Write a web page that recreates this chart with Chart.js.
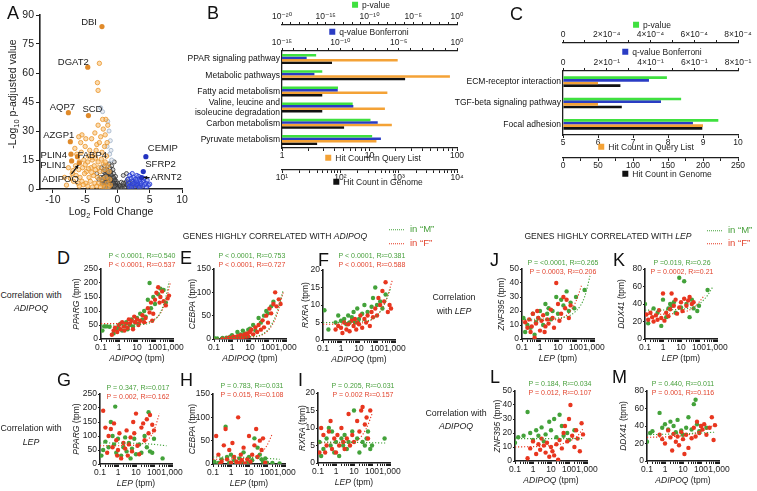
<!DOCTYPE html>
<html>
<head>
<meta charset="utf-8">
<script src="https://cdn.jsdelivr.net/npm/chart.js@4.4.0/dist/chart.umd.min.js"></script>
<style>
html, body { margin: 0; padding: 0; background: #fff; }
#fig { position: relative; width: 757px; height: 491px; overflow: hidden; font-family: "Liberation Sans", Arial, sans-serif; color: #222; }
#fig canvas { position: absolute; }
.t { position: absolute; white-space: nowrap; line-height: 1; }
.c { transform: translate(-50%, -50%); }
.l { transform: translate(0, -50%); }
.tl { transform: none; }
.rot { transform: translate(-50%, -50%) rotate(-90deg); }
.sq { display: inline-block; width: 6px; height: 6px; margin-right: 4px; vertical-align: 0; }
.dot { display: inline-block; width: 15px; border-top: 1.5px dotted; vertical-align: middle; margin-right: 6px; }
</style>
</head>
<body>
<div id="fig"></div>
<script>
// ---------- A : volcano ----------
const volcOrange = [[-2.8,65],[-3.1,55],[-3.0,51],[-1.8,36],[-1.5,33],[-2.2,31],[-3.5,29],[-5.5,28],[-6.0,27],[-4.0,26],
  [-2.6,27],[-1.6,24],[-3.2,23],[-5.0,22],[-6.6,21],[-2.0,22],[-5.6,19],[-4.3,20],[-3.6,18],[-2.4,19],[-1.7,17],
  [-5.2,15],[-4.6,14],[-3.9,15],[-3.0,14],[-2.2,13],[-1.5,12],[-7.6,11],[-6.0,10],[-5.4,11],[-4.8,9],[-4.1,11],
  [-3.4,10],[-2.7,9],[-2.0,10],[-1.3,9],[-7.0,8],[-6.4,7],[-5.8,6],[-5.1,8],[-4.4,6],[-3.7,7],[-3.1,6],[-2.4,5],
  [-1.8,6],[-1.2,5],[-6.8,4],[-6.1,3],[-5.5,4],[-4.9,3],[-4.2,4],[-3.5,3],[-2.9,3],[-2.3,2],[-1.6,3],[-1.1,2],
  [-5.9,1.5],[-4.6,1.5],[-3.9,1],[-3.2,1.5],[-2.6,1],[-2.0,1],[-1.4,1],[-8.2,6],[-7.9,2],[-4.5,17],[-3.3,20],
  [-2.8,24],[-1.9,28],[-6.5,12],[-5.0,12.5],[-6.9,9.5],[-3.6,12],[-2.5,15.5],[-4.0,8.5],[-5.3,2.2],[-7.3,5.5],
  [-5.7,24],[-4.9,26],[-3.0,33],[-2.3,36],[-6.3,18],[-4.0,16.5],[-1.9,14],[-3.4,16],[-5.9,14],[-2.9,11],[-4.5,10.5]];
const volcPale = [[-1.5,35],[-1.3,30],[-1.1,25],[-1.6,22],[-1.2,18],[-0.9,15],[-1.0,20],[-2.6,42],[-2.3,40]];
const volcGrey = [[-2.5,11],[-2.2,9],[-2.0,12],[-1.8,8],[-1.6,10],[-1.4,7],[-1.2,11],[-1.0,9],[-0.8,6],[-0.6,8],
  [-0.4,5],[-0.2,4],[0,3],[0.2,2],[-1.9,5],[-1.7,3],[-1.5,5],[-1.3,4],[-1.1,6],[-0.9,3],[-0.7,4],[-0.5,2],[-0.3,3],
  [-0.1,1.5],[0.1,1],[0.3,0.5],[-2.3,4],[-2.1,2],[-1.8,1.5],[-1.6,1],[-1.4,2],[-1.2,1],[-1.0,2],[-0.8,1],[-0.6,1],
  [-0.4,0.8],[-0.2,0.5],[-2.6,6],[-2.4,3],[-1.3,13],[-0.9,12],[-0.7,10],[0.5,0.8],[0.8,1.5],[1.0,2],[1.2,3],
  [1.4,4],[1.6,5],[1.9,3],[2.1,2],[2.4,4],[2.7,3],[3.0,2],[3.3,1],[1.3,1],[1.7,1],[2.2,0.8],[2.8,1],[0.9,7],
  [1.4,8],[-3.2,8],[-2.9,5],[-0.5,14],[-1.1,0.5],[-0.7,2.5],[-1.5,0.4],[0.6,3.5],[-2.0,6.5],[-0.3,6.5],
  [-1.9,9.5],[-1.7,7],[-1.5,8.5],[-1.3,6],[-1.1,8],[-0.9,7],[-0.7,5.5],[-0.5,4.5],[-0.3,1.8],[-0.1,0.6],
  [-1.8,4],[-1.6,2.5],[-1.4,3.5],[-1.2,2.5],[-1.0,4],[-0.8,2.5],[-0.6,3],[-0.4,2],[-0.2,1.2],[0.0,0.4],
  [-1.9,0.8],[-1.7,2],[-1.3,0.6],[-0.9,1.4],[-0.5,1.2],[-2.2,6],[-2.0,3.5],[-1.6,6],[-1.0,5],[-0.6,6],
  [0.4,1.6],[0.7,0.5],[1.1,0.6],[1.5,2.2],[0.9,3],[2.0,1.3],[2.5,2],[3.6,0.8]];
const volcBlue = [[1.6,5],[1.9,7],[2.2,4],[2.5,6],[2.8,5],[3.1,3],[3.4,5],[3.6,2],[4.0,4],[4.4,3],[4.8,2],[2.0,2],
  [2.6,1.5],[3.2,1.5],[3.9,1.5],[4.5,1],[5.0,2.5],[1.7,3],[2.3,8],[3.0,7],[3.3,6.5],[4.1,5.5],[2.9,2.5],[1.8,1.2],
  [3.5,3.8],[4.6,4.5],[2.1,5.5],[2.7,3.5],[2.4,2.8],[3.0,4.2],[3.7,3],[2.2,1],[3.4,0.8],[4.2,2.3]];
const volcLabNames = ['DBI', 'DGAT2', 'AQP7', 'SCD', 'AZGP1', 'PLIN4', 'FABP4', 'PLIN1', 'ADIPOQ', 'CEMIP', 'SFRP2', 'ARNT2'];
const volcLabX = [-2.4, -4.6, -7.6, -4.5, -7.3, -7.2, -6.2, -7.1, -5.9, 4.4, 4.0, 3.75];
const volcLabY = [84, 63, 39.5, 38, 24.5, 18, 16.7, 14.5, 13.4, 16.7, 9, 5.9];
const volcXTicks = [-10, -5, 0, 5, 10];
const volcYTicks = [0, 15, 30, 45, 60, 75, 90];

// ---------- B : KEGG, ADIPOQ ----------
const bCats = ['PPAR signaling pathway', 'Metabolic pathways', 'Fatty acid metabolism',
  ['Valine, leucine and', 'isoleucine degradation'], 'Carbon metabolism', 'Pyruvate metabolism'];
const bPval = [8e-17, 4e-16, 2.5e-14, 1.2e-12, 1.3e-10, 2e-10];
const bQval = [1.3e-13, 6e-13, 6e-11, 1.3e-9, 1.6e-7, 3e-7];
const bHit = [21, 83, 16, 15, 18, 12];
const bGenome = [72, 1290, 49, 49, 116, 40];
const bPTicks = [1e-20, 1e-15, 1e-10, 1e-5, 1];
const bPLabels = ['10⁻²⁰', '10⁻¹⁵', '10⁻¹⁰', '10⁻⁵', '10⁰'];
const bQTicks = [1e-15, 1e-10, 1e-5, 1];
const bQLabels = ['10⁻¹⁵', '10⁻¹⁰', '10⁻⁵', '10⁰'];
const bHTicks = [1, 10, 100];
const bHLabels = ['1', '10', '100'];
const bGTicks = [10, 100, 1000, 10000];
const bGLabels = ['10¹', '10²', '10³', '10⁴'];

// ---------- C : KEGG, LEP ----------
const cCats = ['ECM-receptor interaction', 'TGF-beta signaling pathway', 'Focal adhesion'];
const cPval = [4.75e-4, 5.4e-4, 7.1e-4];
const cQval = [0.393, 0.448, 0.594];
const cHit = [6, 6, 9];
const cGenome = [82, 84, 199];
const cPTicks = [0, 2e-4, 4e-4, 6e-4, 8e-4];
const cPLabels = ['0', '2×10⁻⁴', '4×10⁻⁴', '6×10⁻⁴', '8×10⁻⁴'];
const cQTicks = [0, 0.2, 0.4, 0.6, 0.8];
const cQLabels = ['0', '2×10⁻¹', '4×10⁻¹', '6×10⁻¹', '8×10⁻¹'];
const cHTicks = [5, 6, 7, 8, 9, 10];
const cGTicks = [0, 50, 100, 150, 200, 250];

// ---------- D-M : correlations (x = tpm, log) ----------
const xTickVals = [0.1, 1, 10, 100, 1000];
const xTickLabels = ['0.1', '1', '10', '100', '1,000'];

const dM = [[0.12,30],[0.15,45],[0.2,45],[0.3,44],[0.5,20],[0.7,35],[0.9,40],[1.2,55],[1.5,30],[2,45],[2.5,60],[3,35],[4,50],[5,70],[6,45],[8,60],[10,75],[12,55],[15,90],[20,70],[25,100],[30,80],[40,140],[50,200],[60,110],[80,150],[100,125],[150,160],[200,180],[300,175],[400,130]];
const dF = [[0.4,15],[0.5,30],[0.6,40],[0.8,25],[1,50],[1.2,35],[1.5,60],[1.8,45],[2,30],[2.5,55],[3,40],[3.5,70],[4,55],[5,65],[6,35],[7,80],[8,60],[10,70],[12,50],[15,65],[20,85],[25,60],[30,75],[40,110],[50,95],[60,130],[70,65],[80,90],[100,140],[120,165],[150,185],[180,130],[200,150],[250,170],[300,135],[400,120],[500,145],[600,155]];
const dTM = [[0.1,50],[20,52],[100,70],[200,95],[400,150],[600,205]];
const dTF = [[0.1,55],[20,57],[100,72],[200,92],[400,135],[700,200]];

const eM = [[0.1,2],[0.15,1],[0.3,2],[0.5,3],[0.8,5],[1,8],[1.5,4],[2,15],[3,10],[4,18],[5,12],[6,8],[8,20],[10,22],[15,30],[20,18],[30,45],[40,35],[60,50],[80,60],[100,55],[150,70],[200,80]];
const eF = [[0.3,0],[0.5,1],[0.7,3],[1,2],[1.2,5],[1.5,1],[2,6],[2.5,3],[3,8],[4,4],[5,10],[6,5],[7,12],[8,6],[10,15],[12,20],[15,10],[20,25],[25,15],[30,30],[40,20],[50,40],[60,25],[80,50],[100,35],[120,65],[150,55],[200,75],[250,100],[300,70],[400,85],[500,75]];
const eTM = [[0.1,3],[10,5],[100,20],[300,55],[700,105]];
const eTF = [[0.1,2],[10,4],[100,18],[300,50],[700,100]];

const fM = [[0.12,8.5],[0.2,3],[0.5,5],[0.7,7],[1,5.5],[1.5,6],[2,4.5],[2.5,7],[3,5],[4,6.5],[5,8],[6,5],[8,9],[10,6],[15,7.5],[20,10],[30,8],[50,9.5],[60,12],[80,15],[100,10],[150,11],[200,9],[300,13]];
const fF = [[0.5,3],[0.7,4],[1,3.5],[1.2,2],[1.5,5],[2,3],[2.5,4.5],[3,2.5],[4,5.5],[5,4],[6,6],[7,3],[8,5],[10,4.5],[12,7],[15,3.5],[20,6],[25,5],[30,7],[40,4],[50,8],[60,6.5],[80,9],[100,7],[120,12],[150,10],[200,14],[250,11],[300,16.5],[400,8],[500,10],[600,9]];
const fTM = [[0.1,5],[10,5.3],[100,7],[300,11],[600,15]];
const fTF = [[0.1,4.5],[10,4.8],[100,7],[300,11],[700,17]];

const gM = [[0.12,30],[0.15,50],[0.2,80],[0.3,60],[0.4,150],[0.5,100],[0.6,70],[0.8,40],[1,90],[1.5,30],[2,60],[2.5,95],[3,45],[4,75],[5,20],[6,55],[8,90],[10,35],[15,70],[20,40],[30,100],[40,60],[50,185],[60,45],[80,40],[100,90],[300,20],[0.7,205]];
const gF = [[0.15,190],[0.2,130],[0.25,40],[0.3,100],[0.4,125],[0.5,60],[0.6,145],[0.8,85],[1,50],[1.2,110],[1.5,20],[2,75],[2.5,55],[3,120],[3.5,30],[4,70],[5,95],[6,45],[8,110],[10,180],[12,65],[15,35],[20,130],[25,145],[30,85],[40,160],[50,110],[60,175],[80,140],[100,120],[0.9,30],[7,150]];
const gTM = [[0.1,75],[10,74],[100,70],[500,65]];
const gTF = [[0.1,65],[10,67],[50,90],[100,120],[200,180]];

const hM = [[0.12,5],[0.2,2],[0.3,10],[0.5,80],[0.6,15],[0.8,3],[1,20],[1.5,8],[2,1],[3,12],[4,5],[5,25],[8,2],[10,15],[15,8],[20,55],[30,35],[40,20],[50,10],[60,5],[80,12],[100,3],[200,2],[500,1]];
const hF = [[0.15,60],[0.2,20],[0.3,5],[0.4,40],[0.5,75],[0.6,10],[0.8,30],[1,3],[1.2,45],[1.5,15],[2,5],[2.5,100],[3,2],[3.5,20],[4,8],[5,35],[6,1],[8,10],[10,60],[12,5],[15,20],[20,40],[25,75],[30,15],[40,50],[50,30],[60,55],[80,3],[0.25,0],[2.2,0]];
const hTM = [[0.1,15],[10,14],[100,12],[500,10]];
const hTF = [[0.1,10],[10,13],[50,25],[100,40],[200,65]];

const iM = [[0.12,6],[0.15,2],[0.2,4],[0.3,7],[0.4,10],[0.5,5],[0.6,9],[0.8,3],[1,6],[1.5,2],[2,7],[2.5,5],[3,8],[4,4],[5,6],[8,9],[10,15],[15,7],[20,3],[30,6],[40,5],[50,7],[60,9],[80,4],[100,5],[500,7]];
const iF = [[0.12,3],[0.15,10],[0.2,8],[0.25,3],[0.3,5],[0.4,9],[0.5,12],[0.6,4],[0.8,7],[1,3],[1.2,8],[1.5,5],[2,10],[2.5,6],[3,4],[4,7],[5,14],[6,5],[8,8],[10,6],[15,12],[20,9],[25,15],[30,16],[40,11],[50,13],[60,7],[80,15]];
const iTM = [[0.1,6],[100,5.8],[600,5.7]];
const iTF = [[0.1,5.8],[10,6],[50,10],[100,14]];

const jM = [[0.12,15],[0.15,5],[0.2,10],[0.3,8],[0.4,18],[0.5,3],[0.6,12],[0.8,15],[1,20],[1.5,10],[2,25],[2.5,18],[3,22],[4,14],[5,20],[8,30],[10,18],[15,28],[20,24],[30,34],[40,20],[50,26],[80,22],[100,30],[300,35]];
const jF = [[0.15,12],[0.2,8],[0.25,14],[0.3,5],[0.35,9],[0.4,18],[0.5,1],[0.6,11],[0.8,15],[1,6],[1.2,13],[1.5,17],[2,9],[2.5,14],[3,11],[4,21],[5,15],[6,8],[8,40],[10,25],[12,13],[15,18],[20,30],[25,22],[30,28],[40,15],[50,24],[0.7,20],[1.8,5]];
const jTM = [[0.1,14],[10,15],[100,20],[300,30],[600,45]];
const jTF = [[0.1,13],[10,14],[50,20],[100,27],[200,38]];

const kM = [[0.1,40],[0.15,18],[0.3,35],[0.5,30],[0.8,15],[1,45],[1.5,25],[2,35],[2.5,40],[3,38],[4,42],[5,30],[8,70],[10,36],[15,66],[20,40],[30,25],[40,45],[50,35],[80,32],[100,38],[300,56]];
const kF = [[0.12,28],[0.15,22],[0.2,30],[0.25,25],[0.3,20],[0.4,27],[0.5,22],[0.6,33],[0.8,24],[1,52],[1.2,21],[1.5,30],[2,26],[2.5,34],[3,52],[4,38],[5,45],[6,29],[8,36],[10,42],[12,32],[15,46],[20,38],[25,44],[30,48],[40,40],[50,42]];
const kTM = [[0.1,33],[10,34],[100,40],[300,50],[600,60]];
const kTF = [[0.1,28],[10,30],[50,36],[100,42],[200,50]];

const lM = [[0.1,13],[0.15,17],[0.3,18],[0.5,35],[0.7,20],[1,15],[1.5,22],[2,18],[3,24],[4,14],[5,19],[8,28],[10,22],[15,30],[20,17],[30,33],[40,25],[50,18],[80,20],[100,15],[200,22]];
const lF = [[0.5,2],[0.7,9],[1,14],[1.5,5],[2,12],[2.5,8],[3,16],[4,11],[5,6],[6,13],[8,3],[10,10],[12,7],[15,4],[20,12],[25,1],[30,15],[40,9],[50,20],[60,25],[80,14],[100,30],[120,40],[150,18],[200,10],[250,22],[300,16],[400,7],[500,27],[600,19]];
const lTM = [[0.1,16],[100,16],[600,16]];
const lTF = [[0.1,10],[10,11],[100,14],[300,18],[600,23]];

const mM = [[0.1,22],[0.15,32],[0.2,34],[0.5,55],[0.7,38],[1,42],[1.5,36],[2,45],[3,40],[4,33],[5,47],[8,35],[10,30],[15,38],[20,50],[30,36],[40,65],[50,70],[60,42],[80,34],[100,40],[200,38]];
const mF = [[0.5,30],[0.7,25],[1,20],[1.5,35],[2,27],[2.5,12],[3,31],[4,22],[5,28],[6,18],[8,33],[10,25],[12,8],[15,30],[20,15],[30,26],[40,38],[50,28],[60,45],[80,32],[100,40],[120,36],[150,42],[200,30],[300,38],[400,50],[500,24],[600,41]];
const mTM = [[0.1,30],[100,32],[600,33]];
const mTF = [[0.1,27],[10,29],[100,34],[300,38],[600,43]];

const statsM = {D: 'P &lt; 0.0001, R²=0.540', E: 'P &lt; 0.0001, R²=0.753', F: 'P &lt; 0.0001, R²=0.381',
  G: 'P = 0.347, R²=0.017', H: 'P = 0.783, R²=0.031', I: 'P = 0.205, R²=0.031',
  J: 'P = &lt;0.0001, R²=0.265', K: 'P =0.019, R²=0.26', L: 'P = 0.184, R²=0.034', M: 'P = 0.440, R²=0.011'};
const statsF = {D: 'P &lt; 0.0001, R²=0.537', E: 'P &lt; 0.0001, R²=0.727', F: 'P &lt; 0.0001, R²=0.588',
  G: 'P = 0.002, R²=0.162', H: 'P = 0.015, R²=0.108', I: 'P = 0.002 R²=0.157',
  J: 'P = 0.0003, R²=0.206', K: 'P = 0.0002, R²=0.21', L: 'P = 0.012, R²=0.107', M: 'P = 0.001, R²=0.116'};

// ---------- helpers ----------
const GREEN = '#43a23a', RED = '#e8361f', AX = '#1e1e1e';
const BAR_G = '#3fe03f', BAR_B = '#2a3cc4', BAR_O = '#f4a236', BAR_K = '#111111';
Chart.defaults.font.family = '"Liberation Sans", Arial, "DejaVu Sans", sans-serif';
Chart.defaults.color = '#222';
Chart.defaults.plugins.legend.display = false;
Chart.defaults.plugins.tooltip.enabled = false;

const fig = document.getElementById('fig');
function txt(html, x, y, cls, size, color, extra) {
  const d = document.createElement('div');
  d.className = 't ' + (cls || 'c');
  d.style.left = x + 'px';
  d.style.top = y + 'px';
  d.style.fontSize = (size || 8.5) + 'px';
  if (color) d.style.color = color;
  if (extra) d.style.cssText += extra;
  d.innerHTML = html;
  fig.appendChild(d);
}
function canvasAt(x, y, w, h) {
  const c = document.createElement('canvas');
  c.width = w; c.height = h;
  c.style.left = x + 'px'; c.style.top = y + 'px';
  c.style.width = w + 'px'; c.style.height = h + 'px';
  fig.appendChild(c);
  return c;
}
function fix(size) {
  return s => {
    if (s.isHorizontal()) s.height = size; else s.width = size;
    s.paddingLeft = s.paddingRight = s.paddingTop = s.paddingBottom = 0;
  };
}
function near(a, b) {
  return a === b || Math.abs(a - b) <= 1e-9 * Math.max(Math.abs(a), Math.abs(b));
}
function logTicks(min, max, minor) {
  const out = [];
  for (let e = Math.round(Math.log10(min)); e <= Math.round(Math.log10(max)); e++) {
    const b = Math.pow(10, e);
    if (!minor) { out.push(b); continue; }
    for (let m = 1; m <= 9; m++) if (m * b <= max * 1.000001) out.push(m * b);
  }
  return out;
}
function stepTicks(min, max, step) {
  const out = [];
  for (let v = min; v <= max + step / 1000; v += step) out.push(Math.round(v / step) * step);
  return out;
}
function valueAxis(o) {
  return {
    type: o.type || 'linear', position: o.position, weight: o.weight || 0,
    min: o.min, max: o.max,
    afterFit: fix(o.size),
    afterBuildTicks: s => { s.ticks = o.tickVals.map(v => ({value: v})); },
    border: {display: true, color: AX, width: o.bw || 1.3},
    grid: {drawOnChartArea: false, color: AX, tickLength: o.tickLen || 3, tickWidth: 1},
    ticks: {
      font: {size: o.font || 8.5}, color: '#222', padding: o.pad || 0,
      autoSkip: false, maxRotation: 0, minRotation: 0,
      callback: v => {
        const k = o.labelVals.findIndex(t => near(t, v));
        return k < 0 ? '' : o.labelTexts[k];
      }
    }
  };
}
function categoryAxis(size) {
  return {
    afterFit: fix(size), grid: {display: false, drawTicks: false},
    border: {display: true, color: AX, width: 1.3},
    ticks: {font: {size: 8.5}, color: '#111', padding: 2, autoSkip: false, maxRotation: 0, minRotation: 0}
  };
}

// ---------- A ----------
const volcLabelPlugin = {
  id: 'volcLabels',
  afterDatasetsDraw(chart) {
    const ctx = chart.ctx, xs = chart.scales.x, ys = chart.scales.y;
    const off = [[-5,-4,'right'],[1,-5,'right'],[-6,-5,'center'],[4,-6,'center'],[4,-6,'right'],[-4,1,'right'],
      [0,-1,'left'],[-5,4,'right'],[-19,16,'center'],[2,-8,'left'],[2,-7,'left'],[9,0,'left']];
    ctx.save();
    ctx.font = '9.5px "Liberation Sans", Arial, sans-serif';
    ctx.fillStyle = '#1a1a1a';
    ctx.textBaseline = 'middle';
    volcLabNames.forEach((name, i) => {
      const px = xs.getPixelForValue(volcLabX[i]), py = ys.getPixelForValue(volcLabY[i]);
      ctx.textAlign = off[i][2];
      ctx.fillText(name, px + off[i][0], py + off[i][1]);
    });
    const arrow = (x1, y1, x2, y2) => {
      const a = Math.atan2(y2 - y1, x2 - x1);
      ctx.strokeStyle = '#111'; ctx.lineWidth = 1.2;
      ctx.beginPath(); ctx.moveTo(x1, y1); ctx.lineTo(x2, y2); ctx.stroke();
      ctx.beginPath();
      ctx.moveTo(x2, y2);
      ctx.lineTo(x2 - 4 * Math.cos(a - 0.5), y2 - 4 * Math.sin(a - 0.5));
      ctx.lineTo(x2 - 4 * Math.cos(a + 0.5), y2 - 4 * Math.sin(a + 0.5));
      ctx.closePath(); ctx.fillStyle = '#111'; ctx.fill();
    };
    let px = xs.getPixelForValue(volcLabX[8]), py = ys.getPixelForValue(volcLabY[8]);
    arrow(px - 8, py + 11, px - 1, py + 2);
    px = xs.getPixelForValue(volcLabX[11]); py = ys.getPixelForValue(volcLabY[11]);
    arrow(px + 8, py, px + 2, py);
    ctx.restore();
  }
};

new Chart(canvasAt(12, 5, 182, 200), {
  type: 'scatter',
  data: {datasets: [
    {data: volcLabX.map((x, i) => ({x, y: volcLabY[i]})), pointRadius: 2.6, borderWidth: 0,
     backgroundColor: volcLabX.map(x => x > 0 ? '#2233c0' : '#e08a2a')},
    {data: volcBlue, pointRadius: 2.1, borderWidth: 0.9, borderColor: '#2b40d6', backgroundColor: 'rgba(90,110,230,0.35)'},
    {data: volcOrange, pointRadius: 2.2, borderWidth: 0.8, borderColor: '#ea9428', backgroundColor: 'rgba(248,190,110,0.55)'},
    {data: volcPale, pointRadius: 2, borderWidth: 0.8, borderColor: '#9fb3c8', backgroundColor: 'rgba(220,225,235,0.6)'},
    {data: volcGrey, pointRadius: 2, borderWidth: 0.8, borderColor: '#333333', backgroundColor: 'rgba(150,150,150,0.35)'}
  ]},
  options: {
    responsive: false, animation: false,
    layout: {padding: {top: 10, right: 12, left: 0, bottom: 0}},
    scales: {
      x: valueAxis({position: 'bottom', min: -12, max: 10, size: 16, tickVals: volcXTicks, labelVals: volcXTicks,
        labelTexts: volcXTicks.map(String), font: 10.5, tickLen: 4, pad: 1, bw: 1.6}),
      y: valueAxis({position: 'left', min: 0, max: 90, size: 28, tickVals: volcYTicks, labelVals: volcYTicks,
        labelTexts: volcYTicks.map(String), font: 10.5, tickLen: 4, pad: 2, bw: 1.6})
    }
  },
  plugins: [volcLabelPlugin]
});

// ---------- B ----------
new Chart(canvasAt(185, 0, 290, 183), {
  type: 'bar',
  data: {labels: bCats, datasets: [
    {data: bPval, xAxisID: 'xp', backgroundColor: BAR_G},
    {data: bQval, xAxisID: 'xq', backgroundColor: BAR_B},
    {data: bHit, xAxisID: 'xh', backgroundColor: BAR_O},
    {data: bGenome, xAxisID: 'xg', backgroundColor: BAR_K}
  ]},
  options: {
    indexAxis: 'y', responsive: false, animation: false,
    datasets: {bar: {categoryPercentage: 0.62, barPercentage: 1, borderWidth: 0}},
    layout: {padding: {top: 8, right: 18, left: 0, bottom: 0}},
    scales: {
      y: categoryAxis(97),
      xp: valueAxis({type: 'logarithmic', position: 'top', weight: 2, min: 1e-20, max: 1, size: 17,
        tickVals: logTicks(1e-20, 1, false), labelVals: bPTicks, labelTexts: bPLabels}),
      xq: valueAxis({type: 'logarithmic', position: 'top', weight: 1, min: 1e-15, max: 1, size: 26,
        tickVals: logTicks(1e-15, 1, false), labelVals: bQTicks, labelTexts: bQLabels}),
      xh: valueAxis({type: 'logarithmic', position: 'bottom', weight: 1, min: 1, max: 100, size: 22,
        tickVals: logTicks(1, 100, true), labelVals: bHTicks, labelTexts: bHLabels}),
      xg: valueAxis({type: 'logarithmic', position: 'bottom', weight: 2, min: 10, max: 10000, size: 13,
        tickVals: logTicks(10, 10000, true), labelVals: bGTicks, labelTexts: bGLabels})
    }
  }
});

// ---------- C ----------
new Chart(canvasAt(430, 10, 322, 162), {
  type: 'bar',
  data: {labels: cCats, datasets: [
    {data: cPval, xAxisID: 'xp', backgroundColor: BAR_G},
    {data: cQval, xAxisID: 'xq', backgroundColor: BAR_B},
    {data: cHit, xAxisID: 'xh', backgroundColor: BAR_O, base: 5},
    {data: cGenome, xAxisID: 'xg', backgroundColor: BAR_K}
  ]},
  options: {
    indexAxis: 'y', responsive: false, animation: false,
    datasets: {bar: {categoryPercentage: 0.5, barPercentage: 1, borderWidth: 0}},
    layout: {padding: {top: 10, right: 14, left: 0, bottom: 0}},
    scales: {
      y: categoryAxis(133),
      xp: valueAxis({position: 'top', weight: 2, min: 0, max: 8e-4, size: 23,
        tickVals: stepTicks(0, 8e-4, 1e-4), labelVals: cPTicks, labelTexts: cPLabels}),
      xq: valueAxis({position: 'top', weight: 1, min: 0, max: 0.8, size: 28,
        tickVals: stepTicks(0, 0.8, 0.1), labelVals: cQTicks, labelTexts: cQLabels}),
      xh: valueAxis({position: 'bottom', weight: 1, min: 5, max: 10, size: 23,
        tickVals: cHTicks, labelVals: cHTicks, labelTexts: cHTicks.map(String)}),
      xg: valueAxis({position: 'bottom', weight: 2, min: 0, max: 250, size: 14,
        tickVals: stepTicks(0, 250, 25), labelVals: cGTicks, labelTexts: cGTicks.map(String)})
    }
  }
});

// ---------- D-M ----------
const panelSpec = [
  // letter, green, red, trend M, trend F, y ticks, axis x, plot top, plot bottom, gene, vs
  ['D', dM, dF, dTM, dTF, [0,50,100,150,200,250], 101, 269, 339, 'PPARG', 'ADIPOQ'],
  ['E', eM, eF, eTM, eTF, [0,50,100,150], 214, 269, 339, 'CEBPA', 'ADIPOQ'],
  ['F', fM, fF, fTM, fTF, [0,5,10,15,20], 323, 270, 340, 'RXRA', 'ADIPOQ'],
  ['G', gM, gF, gTM, gTF, [0,50,100,150,200,250], 100, 394, 464, 'PPARG', 'LEP'],
  ['H', hM, hF, hTM, hTF, [0,50,100,150], 213, 394, 464, 'CEBPA', 'LEP'],
  ['I', iM, iF, iTM, iTF, [0,5,10,15,20], 318, 393, 463, 'RXRA', 'LEP'],
  ['J', jM, jF, jTM, jTF, [0,10,20,30,40,50], 522, 269, 339, 'ZNF395', 'LEP'],
  ['K', kM, kF, kTM, kTF, [0,20,40,60,80], 645, 269, 339, 'DDX41', 'LEP'],
  ['L', lM, lF, lTM, lTF, [0,10,20,30,40,50], 515, 391, 461, 'ZNF395', 'ADIPOQ'],
  ['M', mM, mF, mTM, mTF, [0,20,40,60,80], 647, 391, 461, 'DDX41', 'ADIPOQ']
];
const panelText = {
  // letter x/top, y-title x, stats centre x, stats y (green)
  D: [57, 249, 76, 142, 255], E: [180, 249, 192, 252, 255], F: [318, 251, 305, 372, 255],
  G: [57, 371, 76, 138, 387], H: [180, 371, 192, 252, 385], I: [298, 371, 302, 363, 385],
  J: [490, 251, 501, 563, 262], K: [613, 251, 621, 682, 262], L: [490, 368, 497, 560, 383], M: [612, 368, 623, 683, 383]
};
const PW = 72;
panelSpec.forEach(([id, m, f, tm, tf, yt, ax, top, bot, gene, vs]) => {
  const h = bot - top;
  const trend = (d, c) => ({data: d, showLine: true, borderColor: c, borderWidth: 1.1, borderDash: [1.2, 1.8],
    pointRadius: 0, fill: false, cubicInterpolationMode: 'monotone'});
  new Chart(canvasAt(ax - 30, top - 8, 30 + PW + 18, 8 + h + 16), {
    type: 'scatter',
    data: {datasets: [
      trend(tm, GREEN), trend(tf, RED),
      {data: f, pointRadius: 2.2, borderWidth: 0, backgroundColor: RED},
      {data: m, pointRadius: 2.2, borderWidth: 0, backgroundColor: GREEN}
    ]},
    options: {
      responsive: false, animation: false,
      layout: {padding: {top: 8, right: 18, left: 0, bottom: 0}},
      scales: {
        x: valueAxis({type: 'logarithmic', position: 'bottom', min: 0.1, max: 1000, size: 16,
          tickVals: logTicks(0.1, 1000, true), labelVals: xTickVals, labelTexts: xTickLabels, pad: 1, bw: 1.6}),
        y: valueAxis({position: 'left', min: 0, max: yt[yt.length - 1], size: 30,
          tickVals: yt, labelVals: yt, labelTexts: yt.map(String), pad: 1, tickLen: 2, bw: 1.6})
      }
    }
  });
  const p = panelText[id];
  txt(id, p[0], p[1], 'tl', 18, '#111');
  txt('<i>' + gene + '</i> (tpm)', p[2], (top + bot) / 2, 'rot', 8.5);
  txt('<i>' + vs + '</i> (tpm)', ax + PW / 2, bot + 19, 'c', 8.5);
  txt(statsM[id], p[3], p[4], 'c', 7, '#48a03c');
  txt(statsF[id], p[3], p[4] + 8.5, 'c', 7, '#e2452f');
});

// ---------- texts ----------
txt('A', 7, 4, 'tl', 18, '#111');
txt('B', 207, 4, 'tl', 18, '#111');
txt('C', 510, 5, 'tl', 18, '#111');
txt('-Log<sub style="font-size:7.5px">10</sub> p-adjusted value', 14, 94, 'rot', 10.5);
txt('Log<sub style="font-size:7.5px">2</sub> Fold Change', 111, 213, 'c', 10.5);

txt('<span class="sq" style="background:' + BAR_G + '"></span>p-value', 371, 5, 'c', 8.5);
txt('<span class="sq" style="background:' + BAR_B + '"></span>q-value Bonferroni', 369, 32, 'c', 8.5);
txt('<span class="sq" style="background:' + BAR_O + '"></span>Hit Count in Query List', 373, 158, 'c', 8.5);
txt('<span class="sq" style="background:' + BAR_K + '"></span>Hit Count in Genome', 378, 182, 'c', 8.5);
txt('<span class="sq" style="background:' + BAR_G + '"></span>p-value', 652, 25, 'c', 8.5);
txt('<span class="sq" style="background:' + BAR_B + '"></span>q-value Bonferroni', 662, 52, 'c', 8.5);
txt('<span class="sq" style="background:' + BAR_O + '"></span>Hit Count in Query List', 646, 147, 'c', 8.5);
txt('<span class="sq" style="background:' + BAR_K + '"></span>Hit Count in Genome', 667, 174, 'c', 8.5);

txt('GENES HIGHLY CORRELATED WITH <i>ADIPOQ</i>', 275, 236, 'c', 8.6);
txt('GENES HIGHLY CORRELATED WITH <i>LEP</i>', 608, 236, 'c', 8.6);
txt('<span class="dot" style="border-color:' + GREEN + '"></span>in “M”', 389, 229, 'l', 9.5, '#48a03c');
txt('<span class="dot" style="border-color:' + RED + '"></span>in “F”', 389, 243, 'l', 9.5, '#e2452f');
txt('<span class="dot" style="border-color:' + GREEN + '"></span>in “M”', 707, 230, 'l', 9.5, '#48a03c');
txt('<span class="dot" style="border-color:' + RED + '"></span>in “F”', 707, 243, 'l', 9.5, '#e2452f');

txt('Correlation with', 31, 295, 'c', 8.8);
txt('<i>ADIPOQ</i>', 31, 308, 'c', 8.8);
txt('Correlation with', 31, 428, 'c', 8.8);
txt('<i>LEP</i>', 31, 442, 'c', 8.8);
txt('Correlation', 454, 297, 'c', 8.8);
txt('with <i>LEP</i>', 454, 311, 'c', 8.8);
txt('Correlation with', 456, 413, 'c', 8.8);
txt('<i>ADIPOQ</i>', 456, 426, 'c', 8.8);
</script>
</body>
</html>
